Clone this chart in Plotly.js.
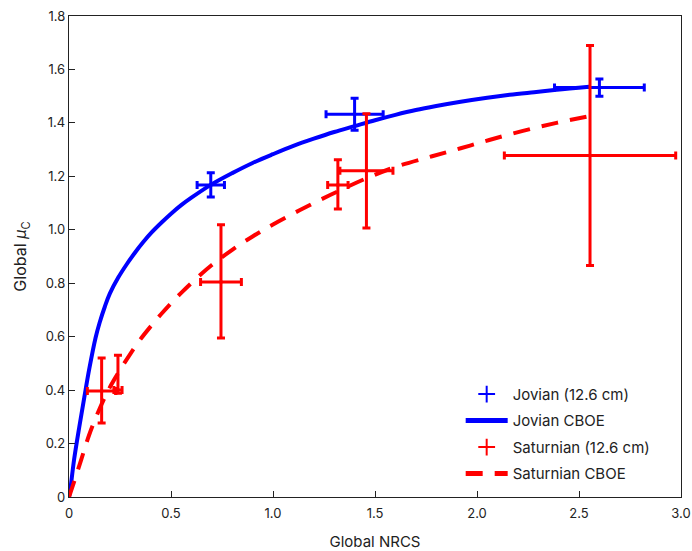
<!DOCTYPE html>
<html>
<head>
<meta charset="utf-8">
<script src="https://cdn.plot.ly/plotly-3.0.1.min.js"></script>
<style>html,body{margin:0;padding:0;background:#fff;}#chart{width:692px;height:551px;}</style>
</head>
<body>
<div id="chart"></div>
<script>
// Jovian measurements (12.6 cm)
const jovX = [0.695, 1.40, 2.60];
const jovY = [1.168, 1.432, 1.532];
const jovXerr = [0.067, 0.14, 0.22];
const jovYerr = [0.045, 0.06, 0.032];

// Saturnian measurements (12.6 cm)
const satX = [0.16, 0.24, 0.745, 1.318, 1.458, 2.554];
const satY = [0.397, 0.40, 0.805, 1.168, 1.221, 1.278];
const satXerr = [0.07, 0.02, 0.10, 0.05, 0.13, 0.42];
const satYerrPlus = [0.123, 0.13, 0.214, 0.094, 0.213, 0.412];
const satYerrMinus = [0.12, 0.012, 0.21, 0.09, 0.214, 0.412];

// CBOE model curves
const jovCurveX = [0, 0.005, 0.025, 0.05, 0.075, 0.10, 0.13, 0.15, 0.176, 0.20, 0.242, 0.283, 0.324, 0.365, 0.405, 0.455, 0.503, 0.55, 0.60, 0.695, 0.80, 0.90, 1.00, 1.10, 1.20, 1.30, 1.40, 1.50, 1.60, 1.70, 1.80, 1.92, 2.05, 2.16, 2.28, 2.39, 2.55];
const jovCurveY = [0, 0.02, 0.14, 0.26, 0.373, 0.482, 0.595, 0.652, 0.713, 0.761, 0.822, 0.871, 0.915, 0.955, 0.99, 1.028, 1.062, 1.092, 1.12, 1.168, 1.212, 1.25, 1.283, 1.314, 1.341, 1.366, 1.388, 1.41, 1.43, 1.448, 1.463, 1.479, 1.494, 1.505, 1.515, 1.524, 1.535];
const satCurveX = [0, 0.02, 0.06, 0.10, 0.15, 0.20, 0.25, 0.30, 0.35, 0.40, 0.45, 0.50, 0.55, 0.62, 0.70, 0.80, 0.90, 1.00, 1.13, 1.28, 1.45, 1.60, 1.78, 1.92, 2.06, 2.225, 2.39, 2.55];
const satCurveY = [0, 0.045, 0.14, 0.235, 0.33, 0.41, 0.475, 0.535, 0.59, 0.638, 0.683, 0.725, 0.764, 0.815, 0.868, 0.925, 0.975, 1.02, 1.073, 1.13, 1.19, 1.235, 1.275, 1.305, 1.336, 1.37, 1.40, 1.425];

// Axis ticks
const xTickVals = [0, 0.5, 1.0, 1.5, 2.0, 2.5, 3.0];
const xTickText = ['0', '0.5', '1.0', '1.5', '2.0', '2.5', '3.0'];
const yTickVals = [0, 0.2, 0.4, 0.6, 0.8, 1.0, 1.2, 1.4, 1.6, 1.8];
const yTickText = ['0', '0.2', '0.4', '0.6', '0.8', '1.0', '1.2', '1.4', '1.6', '1.8'];

const BLUE = '#0000ff', RED = '#ff0000';
const FONT = 'Inter, "Noto Sans", sans-serif';

const traces = [
  {
    x: jovCurveX, y: jovCurveY, mode: 'lines', name: 'Jovian CBOE',
    line: {color: BLUE, width: 4, shape: 'spline', smoothing: 1},
    legendrank: 2, legendgroup: 'b'
  },
  {
    x: jovX, y: jovY, mode: 'markers', name: 'Jovian (12.6 cm)',
    marker: {symbol: 'cross-thin', size: 2, color: BLUE, line: {color: BLUE, width: 3}},
    error_x: {type: 'data', array: jovXerr, visible: true, color: BLUE, thickness: 3, width: 4},
    error_y: {type: 'data', array: jovYerr, visible: true, color: BLUE, thickness: 3, width: 4},
    legendrank: 1, legendgroup: 'a'
  },
  {
    x: satCurveX, y: satCurveY, mode: 'lines', name: 'Saturnian CBOE',
    line: {color: RED, width: 4, dash: '17px,12px', shape: 'spline', smoothing: 1},
    legendrank: 4, legendgroup: 'd'
  },
  {
    x: satX, y: satY, mode: 'markers', name: 'Saturnian (12.6 cm)',
    marker: {symbol: 'cross-thin', size: 2, color: RED, line: {color: RED, width: 3}},
    error_x: {type: 'data', array: satXerr, visible: true, color: RED, thickness: 3, width: 4},
    error_y: {type: 'data', array: satYerrPlus, arrayminus: satYerrMinus, symmetric: false, visible: true, color: RED, thickness: 3, width: 4},
    legendrank: 3, legendgroup: 'c'
  }
];

const axisCommon = {
  showgrid: false, zeroline: false, showline: true, linecolor: '#222', linewidth: 1.2,
  mirror: true, ticks: 'inside', ticklen: 6, tickwidth: 1, tickcolor: '#222',
  tickfont: {family: FONT, size: 13, color: '#222'}
};

const layout = {
  width: 692, height: 551,
  margin: {l: 69, r: 11, t: 16, b: 54},
  paper_bgcolor: '#fff', plot_bgcolor: '#fff',
  showlegend: true,
  font: {family: FONT, color: '#222'},
  xaxis: Object.assign({}, axisCommon, {
    range: [0, 3.0], tickvals: xTickVals, ticktext: xTickText, ticklabelstandoff: 4,
    title: {text: 'Global NRCS', font: {family: FONT, size: 15, color: '#222'}, standoff: 18}
  }),
  yaxis: Object.assign({}, axisCommon, {
    range: [0, 1.8], tickvals: yTickVals, ticktext: yTickText,
    title: {text: 'Global <i>μ</i><sub>C</sub>', font: {family: FONT, size: 16, color: '#222'}, standoff: 14}
  }),
  legend: {
    x: 0.64, xanchor: 'left', y: 0.015, yanchor: 'bottom',
    bgcolor: 'rgba(0,0,0,0)', borderwidth: 0,
    font: {family: FONT, size: 15, color: '#222'},
    itemsizing: 'constant', itemwidth: 42, tracegroupgap: 4
  }
};

Plotly.newPlot('chart', traces, layout, {displayModeBar: false, staticPlot: true});
</script>
</body>
</html>
